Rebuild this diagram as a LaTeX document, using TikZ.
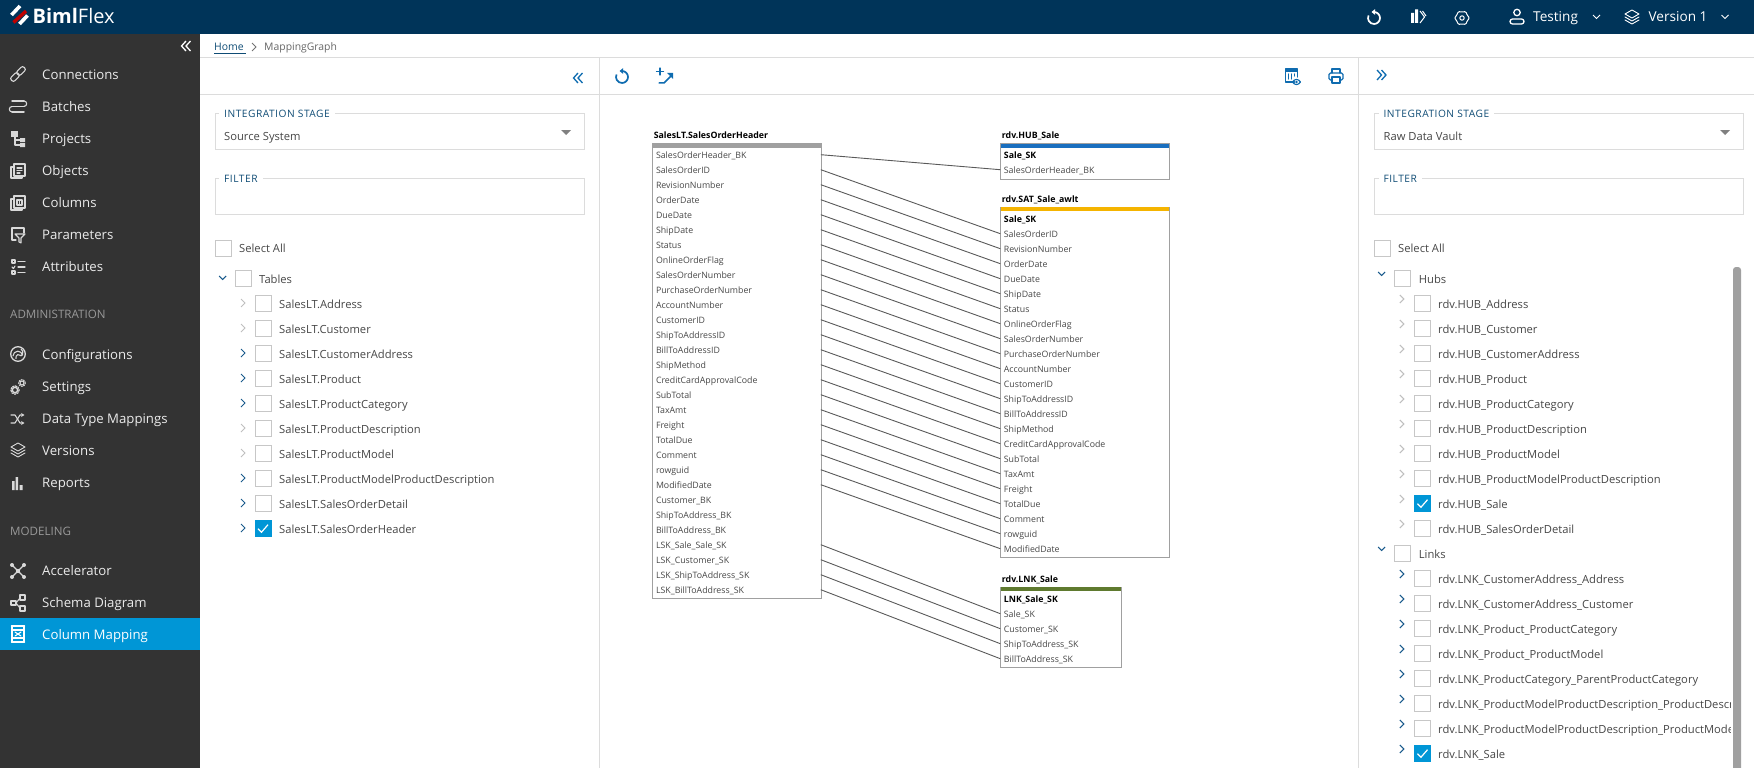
\documentclass[tikz,border=0pt]{standalone}
\usepackage{fontspec}
\setmainfont{Open Sans}
\usetikzlibrary{arrows.meta, shapes.geometric}
\definecolor{topnavy}{RGB}{0,52,89}
\definecolor{sidegray}{RGB}{51,51,51}
\definecolor{activeblue}{RGB}{0,150,214}
\definecolor{iconblue}{RGB}{15,108,176}
\definecolor{legendblue}{RGB}{15,76,117}
\definecolor{chevblue}{RGB}{25,90,140}
\definecolor{linegray}{RGB}{220,220,220}
\definecolor{boxgray}{RGB}{160,160,160}
\definecolor{treetext}{RGB}{70,70,70}
\definecolor{hubblue}{RGB}{26,111,191}
\definecolor{satyellow}{RGB}{245,180,0}
\definecolor{lnkgreen}{RGB}{95,122,47}
\tikzstyle{sideitem} = [anchor=west, inner sep=0pt, text height=12.5pt, text depth=3pt, font=\fontsize{13.2}{15}\selectfont, text=white!92!black]
\tikzstyle{sidehead} = [anchor=west, inner sep=0pt, text height=11pt, text depth=2pt, font=\fontsize{11.6}{14}\selectfont, text=black!40]
\tikzstyle{treelabel} = [anchor=west, inner sep=0pt, text height=11pt, text depth=3pt, font=\fontsize{11.2}{14}\selectfont, text=treetext]
\tikzstyle{legendtext} = [anchor=west, inner xsep=5pt, inner ysep=1pt, fill=white, font=\fontsize{10.2}{12}\selectfont\addfontfeature{LetterSpace=5}, text=legendblue]
\tikzstyle{fieldbox} = [anchor=north west, draw=linegray, line width=1pt, inner sep=0pt, minimum height=36pt]
\tikzstyle{chkbox} = [draw=black!22, line width=0.9pt, inner sep=0pt, minimum width=16pt, minimum height=16pt]
\tikzstyle{chkon} = [draw=activeblue, fill=activeblue, line width=0.9pt, inner sep=0pt, minimum width=16pt, minimum height=16pt]
\tikzstyle{tabletitle} = [anchor=west, inner sep=0pt, text height=10pt, text depth=2pt, font=\fontsize{8.8}{11}\selectfont\bfseries, text=black]
\tikzstyle{tablebox} = [anchor=north west, draw=boxgray, line width=1pt, inner sep=0pt]
\tikzstyle{band} = [anchor=north west, inner sep=0pt, minimum height=4pt]
\tikzstyle{rowtext} = [anchor=west, inner xsep=3.6pt, inner ysep=0pt, outer sep=0pt, align=left, text height=9.5pt, text depth=2.5pt, font=\fontsize{8.8}{11}\selectfont, text=treetext]
\tikzstyle{rowwide} = [rowtext, text width=161.2pt]
\tikzstyle{rownarrow} = [rowtext, text width=113.3pt]
\tikzstyle{link} = [draw=black!65, line width=0.9pt]
\tikzstyle{icon} = [line width=1.1pt, line cap=round, line join=round]
\newcommand{\chevr}[3]{\draw[#3, line width=1pt] (#1-2,#2-4) -- (#1+2,#2) -- (#1-2,#2+4);}
\newcommand{\chevd}[3]{\draw[#3, line width=1pt] (#1-3.5,#2-2) -- (#1,#2+1.5) -- (#1+3.5,#2-2);}
\newcommand{\dbleft}[3]{\draw[#3, line width=1.3pt] (#1,#2-5) -- (#1-4.5,#2) -- (#1,#2+5) (#1+4.5,#2-5) -- (#1,#2) -- (#1+4.5,#2+5);}
\newcommand{\dropdown}[2]{\fill[black!50] (#1-5,#2-2.5) -- (#1+5,#2-2.5) -- (#1,#2+2.5) -- cycle;}
\newcommand{\tick}[2]{\draw[white, line width=1.2pt] (#1-5,#2) -- (#1-1.5,#2+3.5) -- (#1+5,#2-4);}
\newcommand{\icoRefresh}[2]{\begin{scope}[shift={#1}, #2] \draw[line width=1.7pt] (-90:6) arc (-90:205:6); \fill (-2.5,-6) -- (1,-8.8) -- (1,-3.2) -- cycle; \end{scope}}
\newcommand{\icoLayers}[2]{\begin{scope}[shift={#1}, #2, icon, line width=0.9pt] \draw (-7,-3) -- (0,-7) -- (7,-3) -- (0,1) -- cycle; \draw (-7,0) -- (0,4) -- (7,0); \draw (-7,3) -- (0,7) -- (7,3); \end{scope}}
\begin{document}
\begin{tikzpicture}[x=1pt, y=-1pt]
\useasboundingbox (0,0) rectangle (1754,768);

% Top bar and side bar
\fill[topnavy] (0,0) rectangle (1754,34);
\fill[sidegray] (0,34) rectangle (200,768);
\fill[activeblue] (0,618) rectangle (200,650);

% Panel rules
\draw[linegray, line width=1pt] (200,57.5) -- (1754,57.5);
\draw[linegray, line width=1pt] (200,94.7) -- (1754,94.7);
\draw[linegray, line width=1pt] (599.5,57.5) -- (599.5,768);
\draw[linegray, line width=1pt] (1358.6,57.5) -- (1358.6,768);

% Logo
\draw[white, line width=3.6pt] (11.5,15) -- (20,6);
\draw[red!75!black, line width=3.4pt] (13.5,22.5) -- (26,11);
\draw[white, line width=3.6pt] (19.5,24) -- (27.5,15.5);
\node[anchor=west, inner sep=0pt, text height=15pt, text depth=0pt, text=white, font=\fontsize{20}{24}\selectfont] (logo) at (32.5,16) {\textbf{Biml}Flex};

% Top right
\icoRefresh{(1374,18)}{white}
\fill[white] (1411,13) rectangle (1414,23) (1415,9.5) rectangle (1418,23);
\draw[white, line width=1pt] (1420,11) -- (1424.5,17) -- (1420,23) (1422.5,11) -- (1426,16);
\begin{scope}[shift={(1462,18)}, white, line width=1pt, line join=round]
\draw[rounded corners=1pt] (0:7.4) -- (30:6) -- (60:7.4) -- (90:6) -- (120:7.4) -- (150:6) -- (180:7.4) -- (210:6) -- (240:7.4) -- (270:6) -- (300:7.4) -- (330:6) -- cycle;
\draw (0,0) circle (2.2);
\end{scope}
\begin{scope}[shift={(1517,17)}, white, icon, line width=1.3pt]
\draw (0,-4.5) circle (3.2);
\draw[rounded corners=2.5pt] (-7,7) rectangle (7,2);
\end{scope}
\node[treelabel, text=white, font=\fontsize{13.6}{16}\selectfont, text height=12pt] (user) at (1533,17) {Testing};
\chevd{1596.5}{17}{white}
\icoLayers{(1632,17)}{white}
\node[treelabel, text=white, font=\fontsize{13.6}{16}\selectfont, text height=12pt] (version) at (1648.4,17) {Version 1};
\chevd{1725}{17}{white}

% Side bar menu
\dbleft{186}{46}{white}
\node[sideitem] (nav_conn) at (42,75) {Connections};
\node[sideitem] (nav_batch) at (42,107) {Batches};
\node[sideitem] (nav_proj) at (42,139) {Projects};
\node[sideitem] (nav_obj) at (42,171) {Objects};
\node[sideitem] (nav_col) at (42,203) {Columns};
\node[sideitem] (nav_par) at (42,235) {Parameters};
\node[sideitem] (nav_attr) at (42,267) {Attributes};
\node[sidehead] (head_admin) at (10,314) {ADMINISTRATION};
\node[sideitem] (nav_conf) at (42,355) {Configurations};
\node[sideitem] (nav_set) at (42,387) {Settings};
\node[sideitem] (nav_type) at (42,419) {Data Type Mappings};
\node[sideitem] (nav_ver) at (42,451) {Versions};
\node[sideitem] (nav_rep) at (42,483) {Reports};
\node[sidehead] (head_model) at (10,531) {MODELING};
\node[sideitem] (nav_acc) at (42,571) {Accelerator};
\node[sideitem] (nav_schema) at (42,603) {Schema Diagram};
\node[sideitem, text=white] (nav_map) at (42,635) {Column Mapping};

% Side bar icons
\begin{scope}[white!85!black, icon]
\begin{scope}[shift={(18,74)}, rotate=45]
\draw[rounded corners=2pt] (-9,-2.5) rectangle (0.5,2.5);
\draw[rounded corners=2pt] (-0.5,-2.5) rectangle (9,2.5);
\end{scope}
\begin{scope}[shift={(18,106)}]
\draw[line width=1.5pt] (-6,-5) -- (6,-5) (-6,0.5) -- (6,0.5) (-6,6) -- (6,6);
\draw (6,-5) arc (-90:90:2.7); \draw (-6,0.5) arc (270:90:2.7);
\end{scope}
\begin{scope}[shift={(18,139)}]
\fill (-7,-8) rectangle (0,-2);
\draw (-3,-2) -- (-3,6) (-3,1) -- (2,1) (-3,6) -- (2,6);
\fill (2,-1) rectangle (7,3) (2,4) rectangle (7,8);
\end{scope}
\begin{scope}[shift={(18,171)}]
\draw (-4,-7) rectangle (7,5); \draw (-4,-4) -- (-7,-4) -- (-7,7) -- (4,7) -- (4,5);
\draw (-1,-3) -- (4,-3) (-1,-0.5) -- (4,-0.5) (-1,2) -- (2,2);
\end{scope}
\begin{scope}[shift={(18,203)}]
\draw (-4,-7) rectangle (7,5); \draw (-4,-4) -- (-7,-4) -- (-7,7) -- (4,7) -- (4,5);
\draw (-1,-3) rectangle (4,2); \draw (1.5,-3) -- (1.5,2);
\end{scope}
\begin{scope}[shift={(18,235)}]
\draw (6,-2) -- (6,-7) -- (-6,-7) -- (-6,5) -- (-2,5);
\draw (-3,-1) -- (7,-1) -- (3,3) -- (3,8) -- (1,7) -- (1,3) -- cycle;
\end{scope}
\begin{scope}[shift={(18,267)}]
\draw (-6,-7) rectangle (-3,-4) (-6,4) rectangle (-3,7);
\draw (-6,0) -- (-4.5,1.5) -- (-3,-1);
\draw[line width=1.3pt] (0,-5.5) -- (7,-5.5) (0,0) -- (7,0) (0,5.5) -- (7,5.5);
\end{scope}
\begin{scope}[shift={(18,354)}]
\draw[line width=1.3pt] (0,0) circle (7.3);
\draw (-5,2) arc (180:350:4.8); \draw (-2,4.5) arc (160:320:3);
\draw (3,-5) arc (-60:60:4);
\end{scope}
\begin{scope}[shift={(18,387)}]
\draw[line width=1.4pt] (-3,3) circle (2.7);
\draw[line width=1.2pt, dash pattern=on 1.4pt off 1.4pt] (-3,3) circle (4.2);
\draw[line width=1.1pt] (4,-4) circle (2);
\draw[line width=1pt, dash pattern=on 1.2pt off 1.2pt] (4,-4) circle (3.4);
\end{scope}
\begin{scope}[shift={(18,419)}]
\draw[-{Stealth[length=3.5pt,width=4pt]}] (-7,-4) -- (-3,-4) -- (2,4) -- (6.5,4);
\draw[-{Stealth[length=3.5pt,width=4pt]}] (-7,4) -- (-3,4) -- (2,-4) -- (6.5,-4);
\end{scope}
\icoLayers{(18,450)}{white!85!black}
\fill (12,481) rectangle (14.5,490) (15.5,477) rectangle (18,490) (19.5,485) rectangle (22.5,490);
\begin{scope}[shift={(18,571)}]
\draw (-6,-6) -- (6,6) (-6,6) -- (6,-6);
\fill (-6,-6) circle (2) (6,-6) circle (2) (-6,6) circle (2) (6,6) circle (2) (0,0) circle (2.2);
\end{scope}
\begin{scope}[shift={(18,603)}]
\draw (-7,-2) rectangle (-2,2) (2,-8) rectangle (7,-3) (2,3) rectangle (7,8);
\draw (-2,0) -- (2,-5) (-2,0) -- (2,5);
\end{scope}
\begin{scope}[shift={(18,634)}, white]
\draw[line width=1.4pt] (-6.5,-8) -- (6.5,-8) (-6.5,8) -- (6.5,8);
\draw (-6,-8) -- (-6,8) (6,-8) -- (6,8) (-6,-4) -- (6,-4) (-6,4) -- (6,4);
\draw (-3,-2) -- (3,2) (-3,2) -- (3,-2);
\end{scope}
\end{scope}

% Breadcrumb
\node[treelabel, text=legendblue, font=\fontsize{10.4}{13}\selectfont] (home) at (214,47) {Home};
\draw[legendblue, line width=0.8pt] (214,53) -- (245.5,53);
\chevr{254}{47}{black!55}
\node[treelabel, font=\fontsize{10.4}{13}\selectfont, text=black!60] (crumb) at (264,47) {MappingGraph};

% Toolbars
\dbleft{578}{78}{iconblue}
\icoRefresh{(622,77)}{iconblue}
\begin{scope}[shift={(666,76)}, iconblue, icon, line width=1.5pt]
\draw (-7,7) -- (-2,7) -- (5,0); \fill (7,-3) -- (7,3) -- (1,-3) -- cycle;
\draw[line width=1.2pt] (-6,-8) -- (-6,-1) (-9.5,-4.5) -- (-2.5,-4.5);
\end{scope}
\begin{scope}[shift={(1291.5,76)}, iconblue, icon]
\draw (3,6) -- (-6,6) -- (-6,-7) -- (6,-7) -- (6,1);
\fill (-6,-7) rectangle (6,-4);
\draw (-3,-2) -- (-3,3) (0,-2) -- (0,3) (3,-2) -- (3,0);
\draw (1,6) .. controls (3.5,2.5) and (6.5,2.5) .. (9,6) .. controls (6.5,9.5) and (3.5,9.5) .. (1,6);
\fill (5,6) circle (1.3);
\end{scope}
\begin{scope}[shift={(1336,76)}, iconblue, icon, line width=1.3pt]
\draw (-4,-3) -- (-4,-7) -- (4,-7) -- (4,-3);
\draw[rounded corners=1.5pt] (-4,4) -- (-7,4) -- (-7,-3) -- (7,-3) -- (7,4) -- (4,4);
\draw (-4,1) rectangle (4,7);
\end{scope}
\draw[iconblue, line width=1.3pt] (1377,70) -- (1381.5,75) -- (1377,80) (1381.5,70) -- (1386,75) -- (1381.5,80);

% Left panel
\node[fieldbox, minimum width=368.6pt] (left_stage) at (215,113.3) {};
\node[legendtext] (left_stage_txt) at (219,114) {INTEGRATION STAGE};
\node[treelabel] (left_stage_val) at (224,136) {Source System};
\dropdown{566}{132.5}
\node[fieldbox, minimum width=368.6pt] (left_filter) at (215,178.3) {};
\node[legendtext] (left_filter_txt) at (219,179) {FILTER};
\node[chkbox] (left_all) at (223,248) {};
\node[treelabel] (left_all_txt) at (239,248.7) {Select All};
\chevd{222.7}{278}{chevblue}
\node[chkbox] (left_tables) at (243,278) {};
\node[treelabel] (left_tables_txt) at (259,279) {Tables};
\foreach \t/\c [count=\i] in {Address/black!25, Customer/black!25, CustomerAddress/chevblue, Product/chevblue, ProductCategory/chevblue, ProductDescription/black!25, ProductModel/black!25, ProductModelProductDescription/chevblue, SalesOrderDetail/chevblue, SalesOrderHeader/chevblue} {
\chevr{243}{279+25*\i-1}{\c}
\node[chkbox] (left_chk_\i) at (263,{278.7+25*\i}) {};
\node[treelabel] (left_txt_\i) at (279,{279+25*\i}) {SalesLT.\t};
}
\node[chkon] (left_on) at (263,528.7) {};
\tick{263}{528.7}

% Right panel
\node[fieldbox, minimum width=368.8pt] (right_stage) at (1374,113.3) {};
\node[legendtext] (right_stage_txt) at (1378.4,114) {INTEGRATION STAGE};
\node[treelabel] (right_stage_val) at (1383.4,136) {Raw Data Vault};
\dropdown{1725}{132.5}
\node[fieldbox, minimum width=368.8pt] (right_filter) at (1374,178.3) {};
\node[legendtext] (right_filter_txt) at (1378.4,179) {FILTER};
\node[chkbox] (right_all) at (1382,248) {};
\node[treelabel] (right_all_txt) at (1398,248.7) {Select All};
\chevd{1381.6}{274}{chevblue}
\node[chkbox] (right_hubs) at (1402,278) {};
\node[treelabel] (right_hubs_txt) at (1418.7,279) {Hubs};
\foreach \t [count=\i] in {Address, Customer, CustomerAddress, Product, ProductCategory, ProductDescription, ProductModel, ProductModelProductDescription, Sale, SalesOrderDetail} {
\chevr{1401.8}{274+25*\i}{black!25}
\node[chkbox] (hub_chk_\i) at (1422.5,{278.7+25*\i}) {};
\node[treelabel] (hub_txt_\i) at (1438,{279+25*\i}) {rdv.HUB\_\t};
}
\node[chkon] (hub_on) at (1422.5,503.7) {};
\tick{1422.5}{503.7}
\chevd{1381.6}{549}{chevblue}
\node[chkbox] (right_links) at (1402,553.7) {};
\node[treelabel] (right_links_txt) at (1418.7,554) {Links};
\foreach \t [count=\i] in {CustomerAddress\_Address, CustomerAddress\_Customer, Product\_ProductCategory, Product\_ProductModel, ProductCategory\_ParentProductCategory, ProductModelProductDescription\_ProductDescr, ProductModelProductDescription\_ProductMode, Sale} {
\chevr{1401.8}{549+25*\i}{chevblue}
\node[chkbox] (lnk_chk_\i) at (1422.5,{553.7+25*\i}) {};
\node[treelabel] (lnk_txt_\i) at (1438,{554+25*\i}) {rdv.LNK\_\t};
}
\node[chkon] (lnk_on) at (1422.5,753.7) {};
\tick{1422.5}{753.7}

% Scroll bar
\fill[white] (1731,267) rectangle (1754,768);
\fill[boxgray, rounded corners=3pt] (1733,267) rectangle (1741,780);

% Source table
\node[tabletitle] (hdr_title) at (653.6,134.7) {SalesLT.SalesOrderHeader};
\node[tablebox, minimum width=168.4pt, minimum height=455pt] (hdr_box) at (652.4,143.3) {};
\node[band, fill=boxgray, minimum width=168.4pt] (hdr_band) at (652.4,143.3) {};
\foreach \t [count=\i] in {SalesOrderHeader\_BK, SalesOrderID, RevisionNumber, OrderDate, DueDate, ShipDate, Status, OnlineOrderFlag, SalesOrderNumber, PurchaseOrderNumber, AccountNumber, CustomerID, ShipToAddressID, BillToAddressID, ShipMethod, CreditCardApprovalCode, SubTotal, TaxAmt, Freight, TotalDue, Comment, rowguid, ModifiedDate, Customer\_BK, ShipToAddress\_BK, BillToAddress\_BK, LSK\_Sale\_Sale\_SK, LSK\_Customer\_SK, LSK\_ShipToAddress\_SK, LSK\_BillToAddress\_SK}
\node[rowwide] (hdr_\i) at (652.4,{139.7+15*\i}) {\t};

% Hub table
\node[tabletitle] (hub_title) at (1001.7,134.7) {rdv.HUB\_Sale};
\node[tablebox, minimum width=168.4pt, minimum height=35.4pt] (hub_box) at (1000.3,143.3) {};
\node[band, fill=hubblue, minimum width=168.4pt] (hub_band) at (1000.3,143.3) {};
\node[rowwide, font=\fontsize{8.8}{11}\selectfont\bfseries, text=black] (hub_1) at (1000.3,154.7) {Sale\_SK};
\node[rowwide] (hub_2) at (1000.3,169.7) {SalesOrderHeader\_BK};

% Satellite table
\node[tabletitle] (sat_title) at (1001.7,198.7) {rdv.SAT\_Sale\_awlt};
\node[tablebox, minimum width=168.4pt, minimum height=350.3pt] (sat_box) at (1000.3,207) {};
\node[band, fill=satyellow, minimum width=168.4pt] (sat_band) at (1000.3,207) {};
\node[rowwide, font=\fontsize{8.8}{11}\selectfont\bfseries, text=black] (sat_1) at (1000.3,218.7) {Sale\_SK};
\foreach \t [count=\i from 2] in {SalesOrderID, RevisionNumber, OrderDate, DueDate, ShipDate, Status, OnlineOrderFlag, SalesOrderNumber, PurchaseOrderNumber, AccountNumber, CustomerID, ShipToAddressID, BillToAddressID, ShipMethod, CreditCardApprovalCode, SubTotal, TaxAmt, Freight, TotalDue, Comment, rowguid, ModifiedDate}
\node[rowwide] (sat_\i) at (1000.3,{203.7+15*\i}) {\t};

% Link table
\node[tabletitle] (lnk_title) at (1001.7,578.7) {rdv.LNK\_Sale};
\node[tablebox, minimum width=120.5pt, minimum height=80.3pt] (lnk_box) at (1000.3,587) {};
\node[band, fill=lnkgreen, minimum width=120.5pt] (lnk_band) at (1000.3,587) {};
\node[rownarrow, font=\fontsize{8.8}{11}\selectfont\bfseries, text=black] (lnk_1) at (1000.3,598.7) {LNK\_Sale\_SK};
\node[rownarrow] (lnk_2) at (1000.3,613.7) {Sale\_SK};
\node[rownarrow] (lnk_3) at (1000.3,628.7) {Customer\_SK};
\node[rownarrow] (lnk_4) at (1000.3,643.7) {ShipToAddress\_SK};
\node[rownarrow] (lnk_5) at (1000.3,658.7) {BillToAddress\_SK};

% Column links
\draw[link] (hdr_1.east) -- (hub_2.west);
\foreach \i in {2,...,23}
\draw[link] (hdr_\i.east) -- (sat_\i.west);
\draw[link] (hdr_27.east) -- (lnk_2.west);
\draw[link] (hdr_28.east) -- (lnk_3.west);
\draw[link] (hdr_29.east) -- (lnk_4.west);
\draw[link] (hdr_30.east) -- (lnk_5.west);

\end{tikzpicture}
\end{document}
